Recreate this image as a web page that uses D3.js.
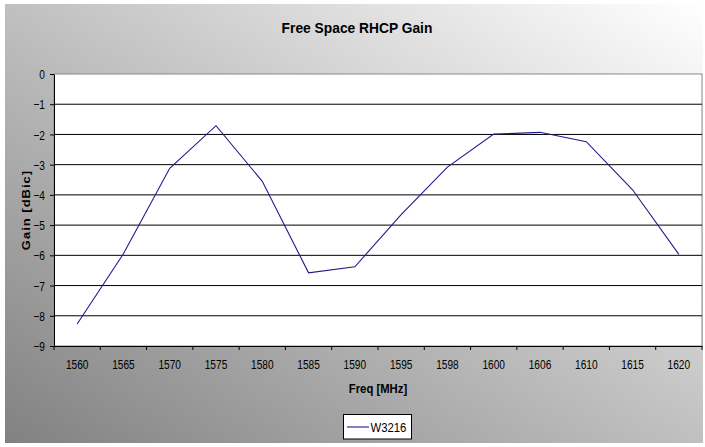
<!DOCTYPE html>
<html>
<head>
<meta charset="utf-8">
<script src="https://cdn.jsdelivr.net/npm/d3@7"></script>
<style>
  html, body { margin: 0; padding: 0; background: #fff; }
  svg { display: block; font-family: "Liberation Sans", Arial, sans-serif; }
</style>
</head>
<body>
<svg id="chart" width="705" height="447"></svg>
<script>
// ---- data ----
const categories = ["1560","1565","1570","1575","1580","1585","1590","1595","1598","1600","1606","1610","1615","1620"];
const gainW3216 = [-8.27,-5.95,-3.12,-1.71,-3.55,-6.58,-6.38,-4.65,-3.08,-1.99,-1.93,-2.24,-3.83,-5.97];
const yTicks = [0,-1,-2,-3,-4,-5,-6,-7,-8,-9];
const seriesName = "W3216";
const titleText = "Free Space RHCP Gain";
const xLabel = "Freq [MHz]";
const yLabel = "Gain [dBic]";

// ---- layout ----
const W = 705, H = 447;
const plot = { left: 54, right: 702, top: 74, bottom: 346 };

const svg = d3.select("#chart");

// background gradient
const defs = svg.append("defs");
const grad = defs.append("linearGradient").attr("id","bg")
  .attr("x1",1).attr("y1",0).attr("x2",0).attr("y2",1);
grad.append("stop").attr("offset","0%").attr("stop-color","#ffffff");
grad.append("stop").attr("offset","100%").attr("stop-color","#818181");

svg.append("rect").attr("x",5).attr("y",4).attr("width",698).attr("height",439)
  .attr("fill","url(#bg)");

// scales
const x = d3.scaleBand().domain(categories).range([plot.left, plot.right]).padding(0);
const y = d3.scaleLinear().domain([-9, 0]).range([plot.bottom, plot.top]);

// plot area
svg.append("rect").attr("x",plot.left).attr("y",plot.top)
  .attr("width",plot.right-plot.left).attr("height",plot.bottom-plot.top)
  .attr("fill","#fff").attr("stroke","#8a8a8a").attr("stroke-width",1);

// gridlines
svg.append("g").selectAll("line").data(yTicks.filter(d => d !== 0 && d !== -9)).join("line")
  .attr("x1",plot.left).attr("x2",plot.right)
  .attr("y1",d => y(d)).attr("y2",d => y(d))
  .attr("stroke","#000").attr("stroke-width",1);

// y axis
const yAxis = svg.append("g").attr("transform",`translate(${plot.left},0)`)
  .call(d3.axisLeft(y).tickValues(yTicks).tickFormat(d3.format("d")).tickSize(4).tickSizeOuter(0));
yAxis.select(".domain").attr("stroke","#000");
yAxis.selectAll(".tick line").attr("stroke","#000");
yAxis.selectAll(".tick text")
  .attr("font-size",13).attr("fill","#000").attr("font-family","Liberation Sans, Arial, sans-serif")
  .attr("x",0).attr("dy","0.35em")
  .attr("transform","translate(-9,0) scale(0.78,1)");

// x axis (labels through band scale)
const xAxis = svg.append("g").attr("transform",`translate(0,${plot.bottom})`)
  .call(d3.axisBottom(x).tickSize(0).tickSizeOuter(0));
xAxis.select(".domain").attr("stroke","#000");
xAxis.selectAll(".tick text")
  .attr("font-size",13).attr("fill","#000").attr("font-family","Liberation Sans, Arial, sans-serif")
  .attr("y",0).attr("dy",0)
  .attr("transform","translate(0,22.5) scale(0.78,1)");
// tick marks at category boundaries
const bounds = categories.map(c => x(c)).concat([x.range()[1]]);
xAxis.append("g").selectAll("line").data(bounds).join("line")
  .attr("x1",d => d).attr("x2",d => d).attr("y1",0).attr("y2",4)
  .attr("stroke","#000");

// line
const line = d3.line()
  .x((d,i) => x(categories[i]) + x.bandwidth()/2)
  .y(d => y(d));
svg.append("path").datum(gainW3216)
  .attr("d", line).attr("fill","none").attr("stroke","#1c1c8c").attr("stroke-width",1.1);

// title
svg.append("text").attr("text-anchor","middle").attr("font-weight","bold").attr("font-size",15)
  .attr("transform","translate(357,33) scale(0.92,1)").text(titleText);

// axis titles
svg.append("text").attr("text-anchor","middle").attr("font-weight","bold").attr("font-size",13)
  .attr("transform",`translate(${(plot.left+plot.right)/2},393) scale(0.87,1)`).text(xLabel);
svg.append("text").attr("text-anchor","middle").attr("font-weight","bold").attr("font-size",13)
  .attr("letter-spacing",1).attr("dy","0.35em")
  .attr("transform",`translate(26,${(plot.top+plot.bottom)/2}) scale(0.8,1) rotate(-90)`).text(yLabel);

// legend
const lg = svg.append("g");
lg.append("rect").attr("x",343.5).attr("y",414.5).attr("width",68).attr("height",24.5)
  .attr("fill","#fff").attr("stroke","#000").attr("stroke-width",1);
lg.append("line").attr("x1",347).attr("x2",369).attr("y1",427).attr("y2",427)
  .attr("stroke","#1c1c8c").attr("stroke-width",1.1);
lg.append("text").attr("font-size",13)
  .attr("transform","translate(370.5,432) scale(0.87,1)").text(seriesName);
</script>
</body>
</html>
